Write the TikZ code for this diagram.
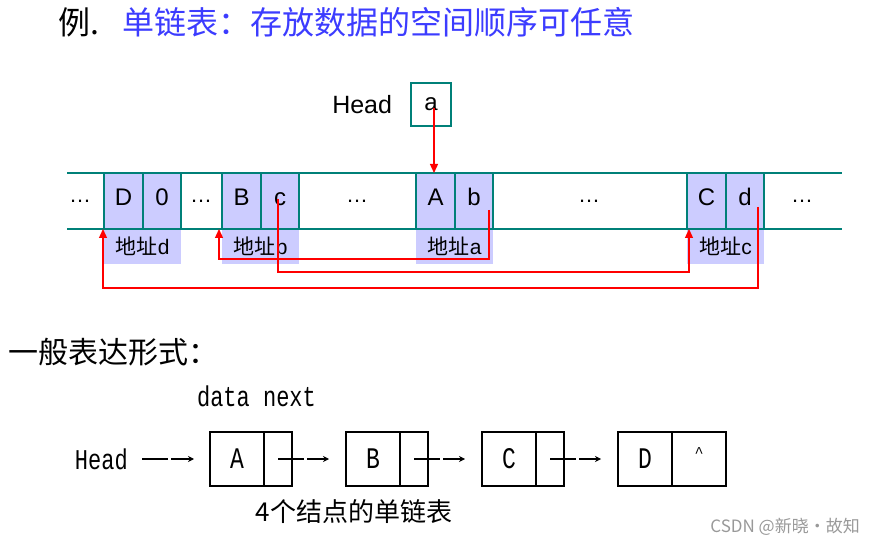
\documentclass[tikz,border=0pt]{standalone}
\usepackage{fontspec}
\usepackage{graphicx}
\usepackage{xcolor}
\setmainfont{Liberation Sans}
\setmonofont{Liberation Mono}
\newfontfamily\cjk{Noto Sans CJK SC}
\usetikzlibrary{arrows.meta, positioning}
\definecolor{memline}{RGB}{0,128,120}
\definecolor{memfill}{RGB}{204,204,255}
\definecolor{titleblue}{RGB}{60,60,255}
\newcommand\tallmono[1]{\scalebox{1}[1.3]{\ttfamily #1}}

\begin{document}
\begin{tikzpicture}[
  x=1pt, y=1pt,
  cell/.style={draw=memline, fill=memfill, line width=1.5pt, minimum height=56pt, inner sep=0pt, outer sep=0pt, text height=17pt, text depth=7pt, font=\fontsize{24}{28}\selectfont},
  dcell/.style={cell, minimum width=39pt},
  ncell/.style={cell, minimum width=38pt},
  addr/.style={fill=memfill, minimum width=77pt, minimum height=35pt, inner sep=0pt, font=\fontsize{21}{24}\selectfont},
  gap/.style={inner sep=0pt, font=\fontsize{22}{26}\selectfont},
  ptr/.style={draw=red, line width=1.3pt, -{Triangle[length=9pt,width=8pt]}},
  field/.style={draw, line width=1.5pt, minimum height=54pt, inner sep=0pt, outer sep=0pt, font=\fontsize{23}{27}\selectfont},
  stub/.style={line width=2.5pt},
  link/.style={line width=1.2pt, -{Stealth[length=6pt,width=6pt]}},
  lbl/.style={inner sep=0pt}
]
  \useasboundingbox (0,0) rectangle (877,546);

  % title
  \node[lbl, anchor=west, font=\cjk\fontsize{32}{36}\selectfont] (ex) at (58,524) {例.};
  \node[lbl, anchor=west, text=titleblue, font=\cjk\fontsize{32}{36}\selectfont] (title) at (122,524) {单链表：存放数据的空间顺序可任意};

  % memory strip
  \node[dcell] (D) at (123.5,345) {D};
  \node[ncell, right=0pt of D] (Dn) {0};
  \node[dcell] (B) at (241.5,345) {B};
  \node[ncell, right=0pt of B] (Bn) {c};
  \node[dcell] (A) at (435.5,345) {A};
  \node[ncell, right=0pt of A] (An) {b};
  \node[dcell] (C) at (706.5,345) {C};
  \node[ncell, right=0pt of C] (Cn) {d};

  \node[addr, anchor=north west] (adD) at (D.south west) {{\cjk 地址}d};
  \node[addr, anchor=north west] (adB) at (B.south west) {{\cjk 地址}b};
  \node[addr, anchor=north west] (adA) at (A.south west) {{\cjk 地址}a};
  \node[addr, anchor=north west] (adC) at (C.south west) {{\cjk 地址}c};

  \draw[memline, line width=1.5pt] (67,373) -- (842,373) (67,317) -- (842,317);

  \node[gap] (g1) at (80,345) {…};
  \node[gap] (g2) at (201,345) {…};
  \node[gap] (g3) at (357,345) {…};
  \node[gap] (g4) at (589,345) {…};
  \node[gap] (g5) at (802,345) {…};

  % head pointer
  \node[draw=memline, line width=1.5pt, minimum width=40pt, minimum height=43pt, inner sep=0pt, font=\fontsize{24}{28}\selectfont] (hp) at (431,441.5) {a};
  \node[lbl, left=18pt of hp, font=\fontsize{25}{30}\selectfont] (headTop) {Head};

  \coordinate (aOut) at ([xshift=3pt,yshift=-4pt]hp.center);
  \draw[ptr] (aOut) -- (aOut |- A.north);
  \draw[ptr] ([xshift=-4pt,yshift=-9pt]An.east) -- ++(0,-49) -| ([xshift=-3pt]B.south west);
  \draw[ptr] ([xshift=-2pt,yshift=2pt]Bn.center) -- ++(0,-73) -| ([xshift=2pt]C.south west);
  \draw[ptr] ([xshift=-6pt,yshift=-6pt]Cn.east) -- ++(0,-81) -| ([xshift=-1pt]D.south west);

  % general form
  \node[lbl, anchor=west, font=\cjk\fontsize{30}{34}\selectfont] (form) at (8,194) {一般表达形式：};
  \node[lbl, font=\fontsize{22}{26}\selectfont] (fields) at (256.5,150) {\tallmono{data next}};

  \node[field, minimum width=54pt] (dataA) at (237,87) {\tallmono{A}};
  \node[field, minimum width=28pt, right=0pt of dataA] (nextA) {};
  \node[field, minimum width=54pt, right=54pt of nextA] (dataB) {\tallmono{B}};
  \node[field, minimum width=28pt, right=0pt of dataB] (nextB) {};
  \node[field, minimum width=54pt, right=54pt of nextB] (dataC) {\tallmono{C}};
  \node[field, minimum width=28pt, right=0pt of dataC] (nextC) {};
  \node[field, minimum width=54pt, right=54pt of nextC] (dataD) {\tallmono{D}};
  \node[field, minimum width=54pt, text depth=12pt, right=0pt of dataD] (nextD) {\fontsize{15}{17}\selectfont\ttfamily\textasciicircum\hspace{10pt}};

  \node[lbl, left=82pt of dataA, font=\fontsize{22}{26}\selectfont] (headList) {\tallmono{Head}};

  \draw[stub] ([xshift=14pt]headList.east) -- ([xshift=40pt]headList.east);
  \draw[link] ([xshift=43pt]headList.east) -- ([xshift=-16pt]dataA.west);
  \draw[stub] (nextA.center) -- ([xshift=12pt]nextA.east);
  \draw[link] ([xshift=15pt]nextA.east) -- ([xshift=-17pt]dataB.west);
  \draw[stub] (nextB.center) -- ([xshift=12pt]nextB.east);
  \draw[link] ([xshift=15pt]nextB.east) -- ([xshift=-17pt]dataC.west);
  \draw[stub] (nextC.center) -- ([xshift=12pt]nextC.east);
  \draw[link] ([xshift=15pt]nextC.east) -- ([xshift=-17pt]dataD.west);

  \node[lbl, font=\cjk\fontsize{26}{30}\selectfont] (caption) at (354,34) {4个结点的单链表};
  \node[lbl, anchor=east, text=black!40, font=\cjk\fontsize{17}{20}\selectfont] (mark) at (860,19) {CSDN @新晓·故知};
\end{tikzpicture}
\end{document}
